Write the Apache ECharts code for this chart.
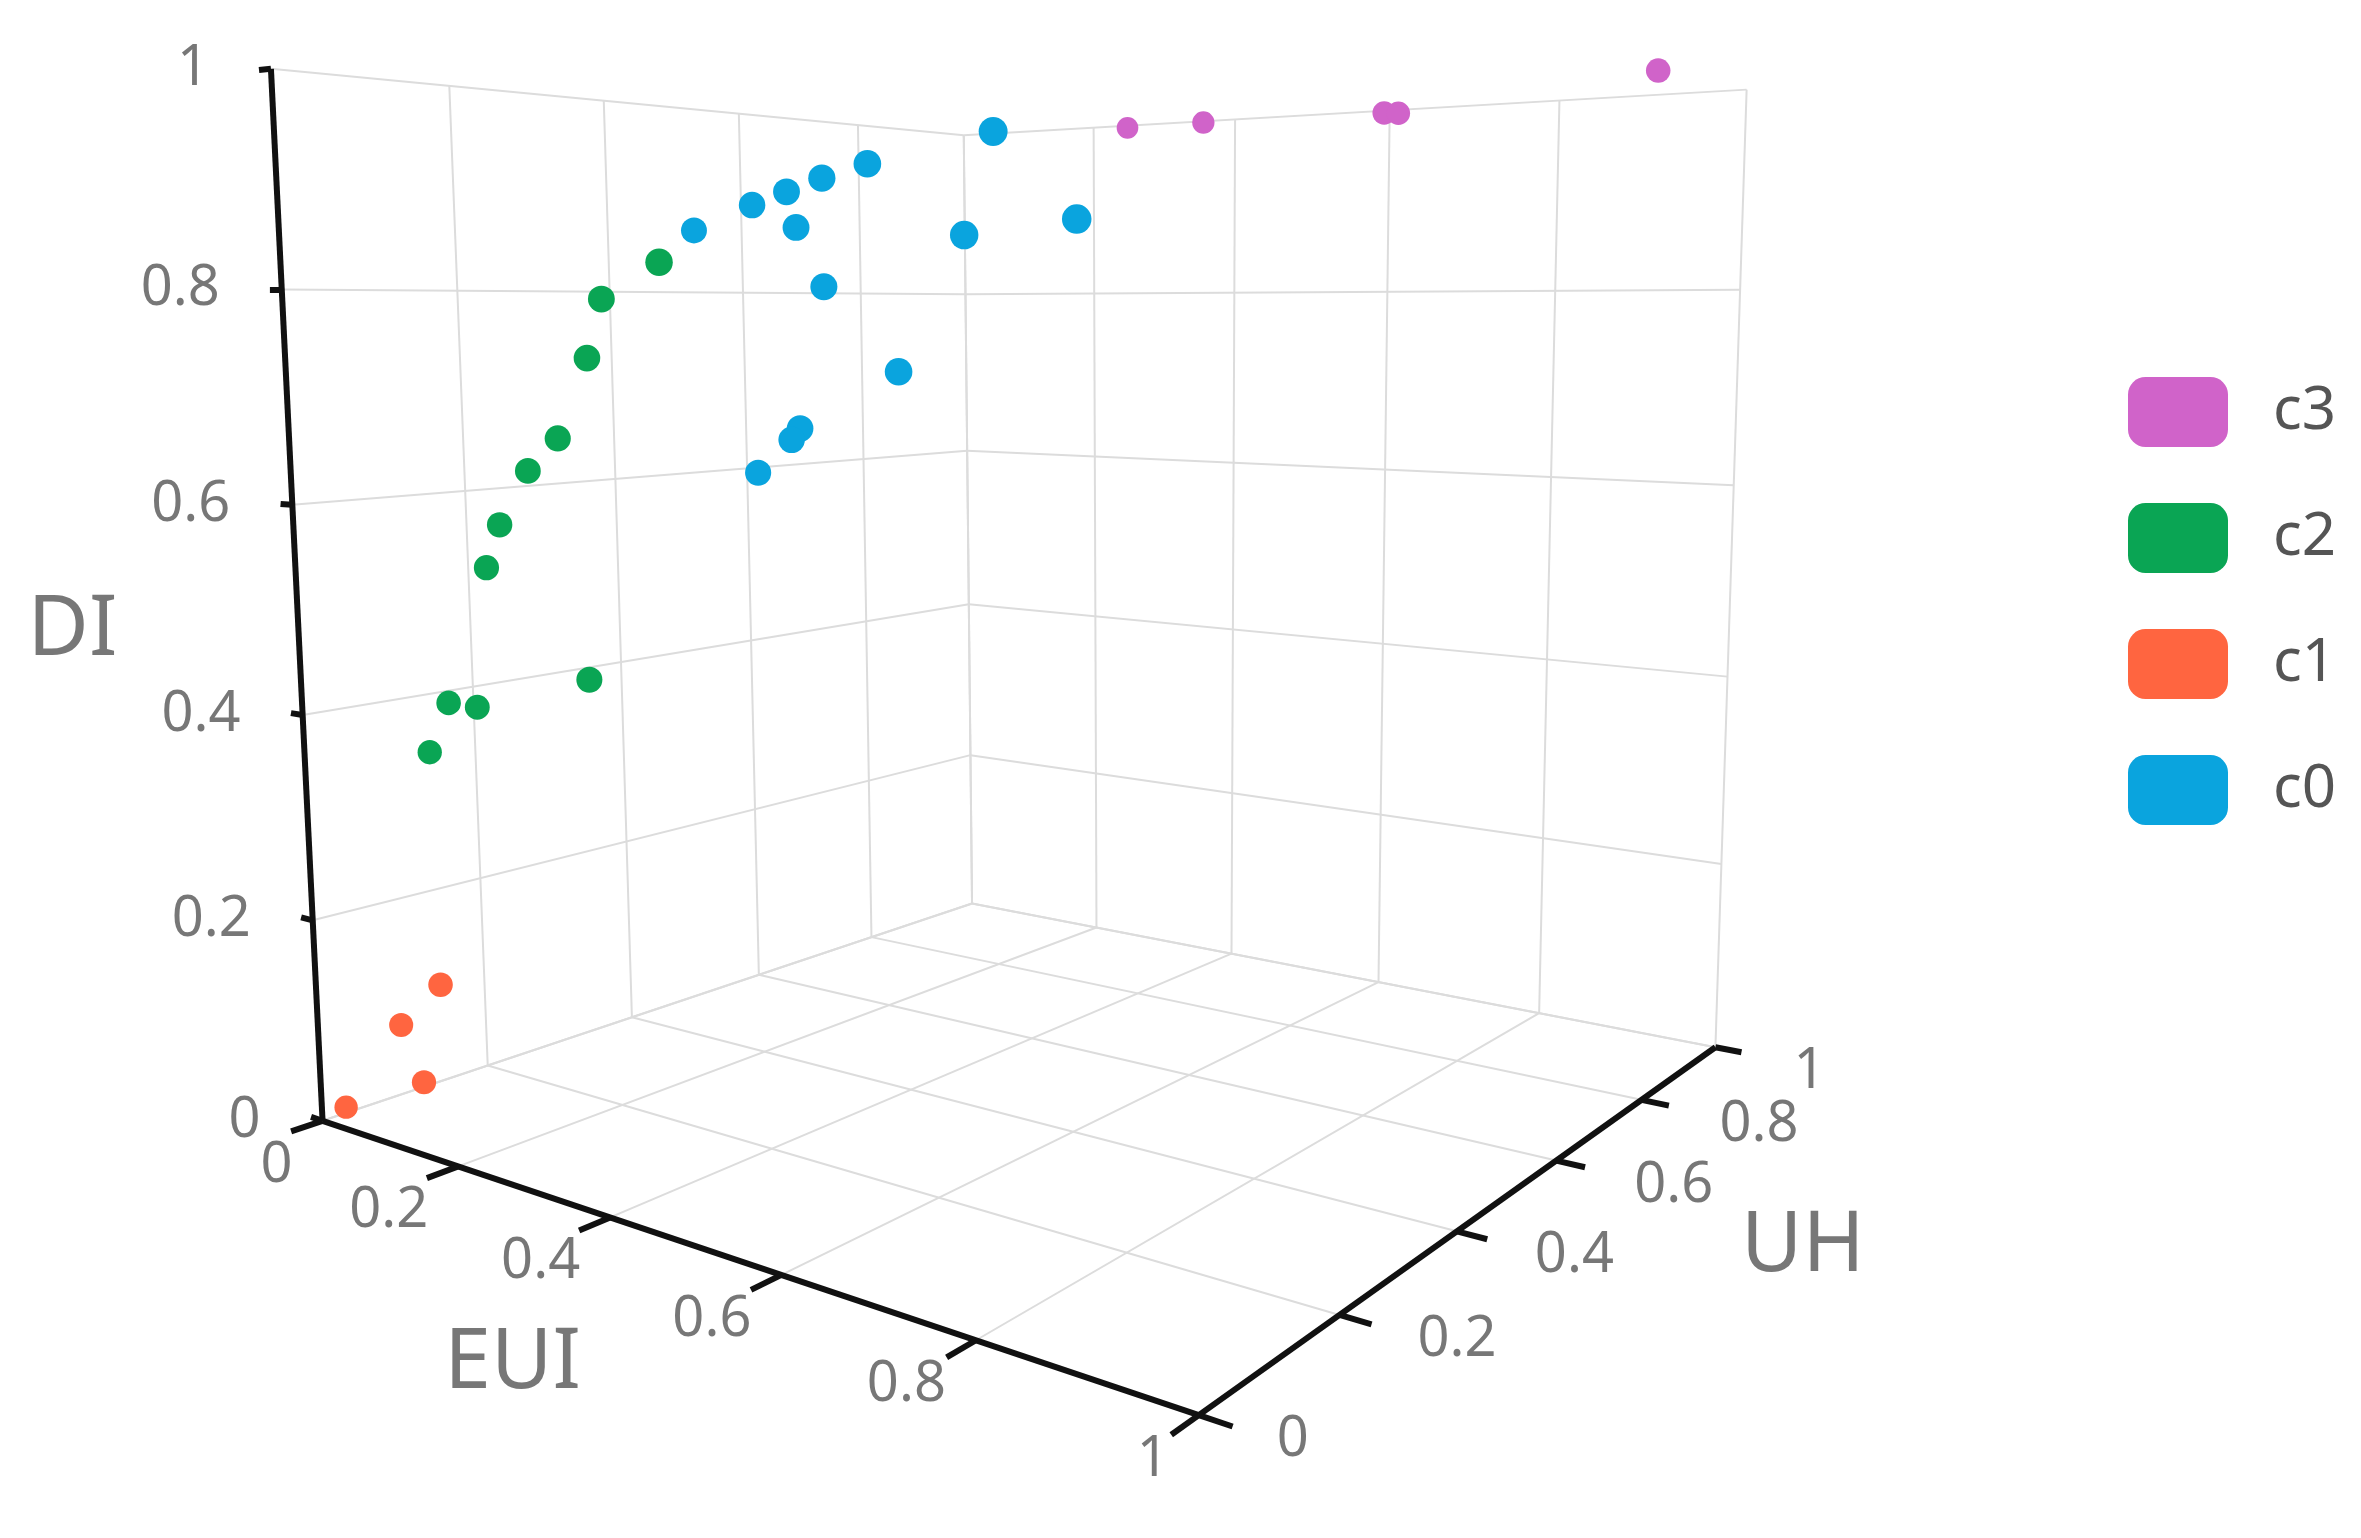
<!DOCTYPE html><html><head><meta charset="utf-8"><script src="https://cdn.jsdelivr.net/npm/echarts@6/dist/echarts.min.js"></script>
<style>html,body{margin:0;background:#fff}#main{width:2361px;height:1538px}</style></head><body><div id="main"></div><script>
// cluster data: EUI, UH, DI
var c0_eui = [0.71,0.58,0.53,0.49,0.45,0.38,0.50,0.68,0.79,0.53,0.61,0.50,0.49,0.45];
var c0_uh  = [0.15,0.15,0.15,0.15,0.15,0.15,0.15,0.15,0.15,0.15,0.15,0.15,0.15,0.15];
var c0_di  = [0.92,0.90,0.89,0.88,0.87,0.85,0.85,0.84,0.85,0.80,0.73,0.68,0.67,0.64];
var c1_eui = [0.16,0.10,0.13,0.01];
var c1_uh  = [0.02,0.02,0.02,0.02];
var c1_di  = [0.16,0.11,0.06,0.01];
var c2_eui = [0.44,0.37,0.35,0.31,0.27,0.23,0.21,0.15,0.19,0.12,0.34];
var c2_uh  = [0.05,0.05,0.05,0.05,0.05,0.05,0.05,0.05,0.05,0.05,0.05];
var c2_di  = [0.82,0.79,0.74,0.67,0.64,0.59,0.55,0.42,0.42,0.37,0.46];
var c3_eui = [0.45,0.55,0.75,0.76,1.00];
var c3_uh  = [0.71,0.70,0.71,0.72,0.77];
var c3_di  = [0.97,0.97,0.97,0.97,1.00];
var ticks = [0,0.2,0.4,0.6,0.8,1];
var tickLabels = ['0','0.2','0.4','0.6','0.8','1'];
var clusters = ['c3','c2','c1','c0'];
var colors = {c0:'#0aa4de', c1:'#ff6540', c2:'#0aa554', c3:'#d063c9'};

// camera: perspective matrix fitted to the box corners of the view
var boxW = [[0,0,0],[1,0,0],[1,1,0],[0,1,0],[0,0,1],[0,1,1],[1,1,1]];
var boxS = [[215,745],[795,940],[1140,695],[645,600],[180,45],[640,90],[1160,60]];
function gauss(A,b){var n=b.length;for(var i=0;i<n;i++){var m=i;for(var k=i+1;k<n;k++)if(Math.abs(A[k][i])>Math.abs(A[m][i]))m=k;
 var t=A[i];A[i]=A[m];A[m]=t;t=b[i];b[i]=b[m];b[m]=t;
 for(var k=i+1;k<n;k++){var f=A[k][i]/A[i][i];for(var j=i;j<n;j++)A[k][j]-=f*A[i][j];b[k]-=f*b[i];}}
 var x=[];for(var i=n-1;i>=0;i--){var s=b[i];for(var j=i+1;j<n;j++)s-=A[i][j]*x[j];x[i]=s/A[i][i];}return x;}
var rows=[],rhs=[];
boxW.forEach(function(X,i){var u=boxS[i][0],v=boxS[i][1];
 rows.push([X[0],X[1],X[2],1,0,0,0,0,-u*X[0],-u*X[1],-u*X[2]]);rhs.push(u);
 rows.push([0,0,0,0,X[0],X[1],X[2],1,-v*X[0],-v*X[1],-v*X[2]]);rhs.push(v);});
var NN=[],nb=[];
for(var i=0;i<11;i++){NN.push([]);for(var j=0;j<11;j++){var a=0;rows.forEach(function(r){a+=r[i]*r[j]});NN[i].push(a);}
 var s=0;rows.forEach(function(r,k){s+=r[i]*rhs[k]});nb.push(s);}
var P=gauss(NN,nb);P.push(1);
function proj(e,u,d){var w=P[8]*e+P[9]*u+P[10]*d+1;
 return [(P[0]*e+P[1]*u+P[2]*d+P[3])/w,(P[4]*e+P[5]*u+P[6]*d+P[7])/w,w];}
function seg(a,b){return {coords:[proj(a[0],a[1],a[2]).slice(0,2),proj(b[0],b[1],b[2]).slice(0,2)]};}

var grid = [];
ticks.forEach(function(t){
  grid.push(seg([t,0,0],[t,1,0]));  // floor
  grid.push(seg([0,t,0],[1,t,0]));
  grid.push(seg([0,t,0],[0,t,1]));  // left wall
  grid.push(seg([0,0,t],[0,1,t]));
  grid.push(seg([t,1,0],[t,1,1]));  // back wall
  grid.push(seg([0,1,t],[1,1,t]));
});
var axes = [seg([0,0,0],[0,0,1]), seg([0,0,0],[1,0,0]), seg([1,0,0],[1,1,0])];
ticks.forEach(function(t){
  axes.push(seg([0,0,t],[-0.018,0,t]));
  axes.push(seg([t,0,0],[t,-0.035,0]));
  axes.push(seg([1,t,0],[1.028,t,0]));
});
function tickData(fn){return ticks.map(function(t,i){var p=proj.apply(null,fn(t));return {value:[p[0],p[1]],name:tickLabels[i]};});}
var w0 = proj(0.5,0.5,0.5)[2];
function pts(eu,uh,di){return eu.map(function(e,i){var p=proj(e,uh[i],di[i]);return [p[0],p[1],p[2]];});}
var clusterData = {c0:pts(c0_eui,c0_uh,c0_di), c1:pts(c1_eui,c1_uh,c1_di), c2:pts(c2_eui,c2_uh,c2_di), c3:pts(c3_eui,c3_uh,c3_di)};

var labelStyle = {show:true, formatter:'{b}', color:'#555', fontSize:56, fontFamily:'Noto Sans'};
function tickSeries(data,pos,offset,align){return {type:'scatter',symbolSize:0,silent:true,data:data,
  label:Object.assign({},labelStyle,{position:pos,offset:offset,align:align,verticalAlign:'middle'})};}
var nameStyle = {color:'#555', fontSize:84, fontFamily:'Noto Sans'};
function nameSeries(txt,p3,offset){var p=proj(p3[0],p3[1],p3[2]);return {type:'scatter',symbolSize:0,silent:true,
  data:[{value:[p[0],p[1]],name:txt}],label:Object.assign({show:true,formatter:'{b}',position:'inside',offset:offset},nameStyle)};}

var series = [
  {type:'lines',coordinateSystem:'cartesian2d',silent:true,data:grid,lineStyle:{color:'#dcdcdc',width:2,opacity:1}},
  {type:'lines',coordinateSystem:'cartesian2d',silent:true,data:axes,lineStyle:{color:'#111',width:6,opacity:1}},
  tickSeries(tickData(function(t){return [0,0,t];}),'inside',[-62,0],'right'),
  tickSeries(tickData(function(t){return [t,0,0];}),'inside',[-30,45],'right'),
  tickSeries(tickData(function(t){return [1,t,0];}),'inside',[78,25],'left'),
  nameSeries('DI',[0,0,0.5],[-225,20]),
  nameSeries('EUI',[0.25,0,0],[18,185]),
  nameSeries('UH',[1,0.55,0],[270,70])
];
['c0','c1','c2','c3'].forEach(function(k){
  series.push({type:'scatter',name:k,data:clusterData[k],
    symbolSize:function(v){return 23*w0/v[2];},
    itemStyle:{color:colors[k],opacity:1}});
});

var myChart = echarts.init(document.getElementById('main'));
myChart.setOption({
  animation:false,
  grid:{left:0,right:0,top:0,bottom:0},
  xAxis:{type:'value',min:0,max:1568,show:false},
  yAxis:{type:'value',min:0,max:1021.5,inverse:true,show:false},
  legend:{data:clusters,orient:'vertical',left:2123,top:372,itemWidth:100,itemHeight:70,itemGap:56,
    icon:'roundRect',textStyle:{color:'#555',fontSize:60,fontFamily:'Noto Sans',padding:[0,0,0,40]}},
  series:series
});
</script></body></html>
